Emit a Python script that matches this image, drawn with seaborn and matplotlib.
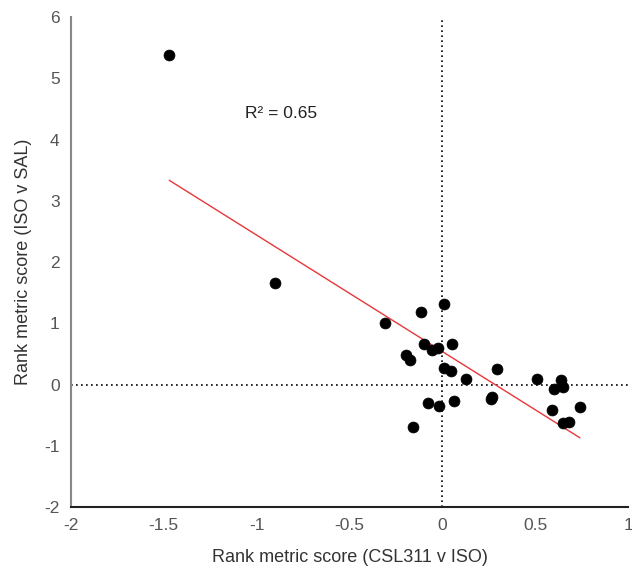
import numpy as np
import pandas as pd
import matplotlib
matplotlib.use('Agg')
import matplotlib.pyplot as plt
import seaborn as sns

# rank metric scores
csl_v_iso = [-1.47, -0.90, -0.31, -0.117, 0.01, -0.099, -0.054, -0.023, 0.054,
             -0.197, -0.174, 0.009, 0.045, 0.125, 0.296, -0.075, -0.016, 0.062,
             -0.158, 0.26, 0.269, 0.507, 0.638, 0.65, 0.60, 0.59, 0.74, 0.647, 0.684]
iso_v_sal = [5.38, 1.66, 1.00, 1.18, 1.31, 0.67, 0.56, 0.60, 0.66,
             0.49, 0.41, 0.27, 0.22, 0.09, 0.265, -0.29, -0.35, -0.26,
             -0.69, -0.24, -0.20, 0.10, 0.07, -0.04, -0.07, -0.42, -0.37, -0.62, -0.61]
r2_label = 'R\u00b2 = 0.65'

data = pd.DataFrame({'csl': csl_v_iso, 'iso': iso_v_sal})

sns.set_style('white')
plt.rcParams['font.family'] = ['Liberation Sans', 'DejaVu Sans']

fig, ax = plt.subplots(figsize=(6.32, 5.70), dpi=100)
fig.subplots_adjust(left=0.112, right=0.994, top=0.970, bottom=0.110)

ax.axhline(0, color='black', linestyle=(0, (1, 2)), linewidth=1.2, zorder=1)
ax.axvline(0, color='black', linestyle=(0, (1, 2)), linewidth=1.2, zorder=1)

sns.regplot(data=data, x='csl', y='iso', ax=ax, ci=None, scatter=False, truncate=True,
            line_kws={'color': '#e8363a', 'linewidth': 1.0, 'zorder': 2})
sns.scatterplot(data=data, x='csl', y='iso', ax=ax, color='black', s=62,
                edgecolor='black', linewidth=0.5, zorder=3)

ax.text(-1.06, 4.42, r2_label, fontsize=12.5, color='#222222', va='center')

ax.set_xlim(-2, 1)
ax.set_ylim(-2, 6)
ax.set_xticks(np.arange(-2, 1.01, 0.5))
ax.set_xticklabels(['-2', '-1.5', '-1', '-0.5', '0', '0.5', '1'])
ax.set_yticks(range(-2, 7))
ax.set_yticklabels([str(v) for v in range(-2, 7)])

ax.set_xlabel('Rank metric score (CSL311 v ISO)', fontsize=13, color='#333333', labelpad=11)
ax.set_ylabel('Rank metric score (ISO v SAL)', fontsize=13, color='#333333', labelpad=9)

sns.despine(ax=ax)
ax.spines['left'].set_color('#888888')
ax.spines['bottom'].set_color('#222222')
ax.spines['left'].set_linewidth(1.5)
ax.spines['bottom'].set_linewidth(1.5)
ax.tick_params(direction='in', length=3, width=1, labelsize=12.5, labelcolor='#555555',
               colors='#888888', pad=8)

plt.savefig('out.png', dpi=100)
plt.close('all')
